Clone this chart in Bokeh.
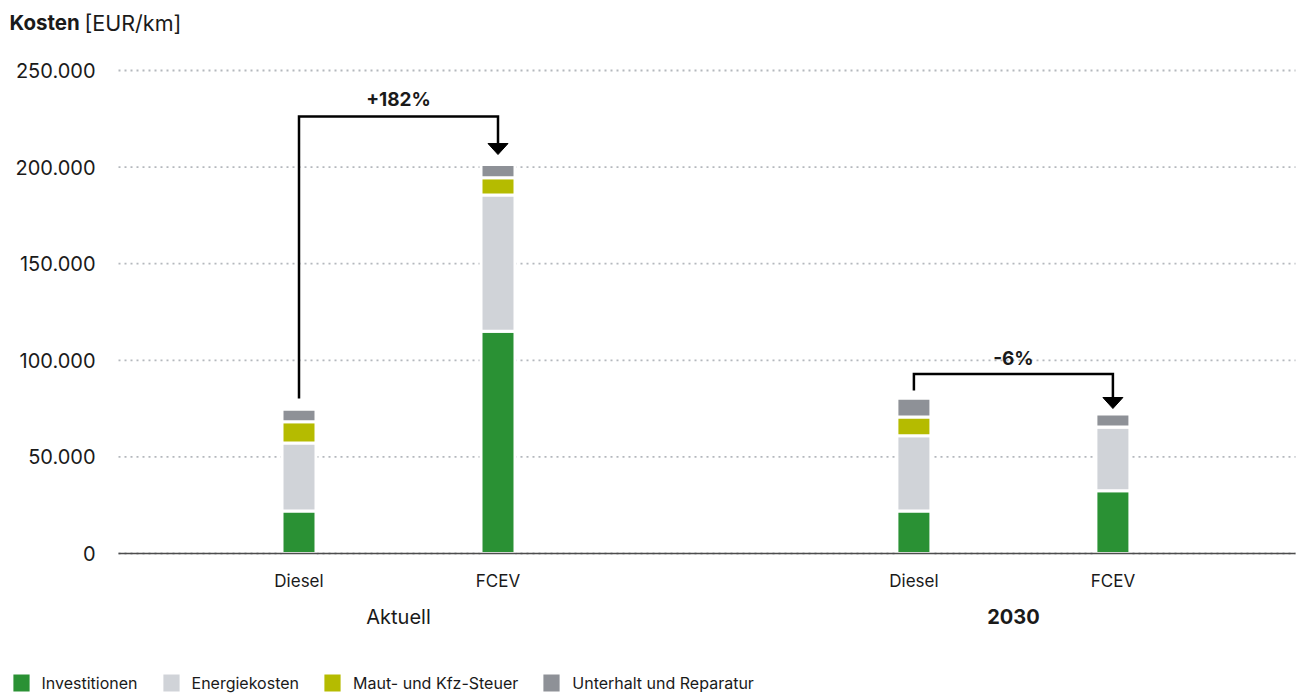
from bokeh.plotting import figure
from bokeh.models import Range1d, FixedTicker, Label, Legend, LegendItem, ColumnDataSource
from bokeh.embed import file_html
from bokeh.resources import INLINE

# ---------------- data ----------------
groups = ["Aktuell", "2030"]
vehicles = ["Diesel", "FCEV"]
components = ["Investitionen", "Energiekosten", "Maut- und Kfz-Steuer", "Unterhalt und Reparatur"]
investitionen = [22000, 115000, 22000, 32500]
energiekosten = [35200, 70500, 39000, 33000]
maut_kfz_steuer = [11000, 9000, 9700, 0]
unterhalt_reparatur = [6500, 6800, 9700, 6700]
y_ticks = [0, 50000, 100000, 150000, 200000, 250000]
y_tick_labels = ["0", "50.000", "100.000", "150.000", "200.000", "250.000"]
change_labels = ["+182%", "-6%"]
change_from = [0, 2]
change_to = [1, 3]
bracket_start = [80200, 84400]
bracket_top = [226200, 92900]
bracket_tip = [206500, 75050]
change_label_y = [234900, 100900]

colors = ["#2a9134", "#d0d3d8", "#b5bb00", "#8e9197"]
TEXT = "#1a1a1a"
FONT = "Inter"

# ---------------- geometry (page pixels) ----------------
W, H = 1304, 695
BAR0_PX = 298.5          # centre of first bar
UNIT_PX = 199.0          # pixels per x unit
ZERO_PY = 553.0          # pixel row of value 0
PX_PER_VAL = 1.932 / 1000.0
GROUP_STEP = 3.09
PLOT_L, PLOT_R = 118, 1295

x_start = (0 - BAR0_PX) / UNIT_PX
x_end = (W - BAR0_PX) / UNIT_PX
y_start = -(H - ZERO_PY) / PX_PER_VAL
y_end = ZERO_PY / PX_PER_VAL


def fx(px):
    return (px - BAR0_PX) / UNIT_PX


def fy(py):
    return (ZERO_PY - py) / PX_PER_VAL


xs = [gi * GROUP_STEP + vi for gi in range(len(groups)) for vi in range(len(vehicles))]
x_labels = [v for g in groups for v in vehicles]

src = ColumnDataSource(dict(
    x=xs,
    Investitionen=investitionen,
    Energiekosten=energiekosten,
    **{"Maut- und Kfz-Steuer": maut_kfz_steuer, "Unterhalt und Reparatur": unterhalt_reparatur},
))

p = figure(width=W, height=H, title=None,
           x_range=Range1d(x_start, x_end), y_range=Range1d(y_start, y_end),
           output_backend="svg", toolbar_location=None,
           min_border_left=0, min_border_right=0, min_border_top=0, min_border_bottom=0)
p.outline_line_color = None
p.background_fill_color = "white"
p.border_fill_color = "white"
p.xgrid.visible = False
p.ygrid.visible = False

# dotted horizontal grid lines
p.segment(x0=fx(PLOT_L), x1=fx(PLOT_R), y0=y_ticks, y1=y_ticks,
          line_color="#b4b8bd", line_width=1.8, line_dash="2 4", level="underlay")

renderers = p.vbar_stack(components, x="x", width=34 / UNIT_PX, source=src,
                         fill_color=colors, line_color="white", line_width=3)

# axes (placed inside the frame)
xa = p.xaxis[0]
xa.fixed_location = 0
xa.bounds = (fx(PLOT_L), fx(PLOT_R))
xa.ticker = FixedTicker(ticks=xs)
xa.major_label_overrides = {x: l for x, l in zip(xs, x_labels)}
xa.axis_line_color = "#4d4d4d"
xa.axis_line_width = 1.5
xa.major_tick_line_color = None
xa.major_tick_out = 0
xa.major_tick_in = 0
xa.minor_tick_line_color = None
xa.major_label_standoff = 17
xa.major_label_text_font = FONT
xa.major_label_text_font_size = "17px"
xa.major_label_text_color = TEXT

ya = p.yaxis[0]
ya.fixed_location = fx(PLOT_L)
ya.bounds = (0, y_ticks[-1])
ya.ticker = FixedTicker(ticks=y_ticks)
ya.major_label_overrides = {t: l for t, l in zip(y_ticks, y_tick_labels)}
ya.axis_line_color = None
ya.major_tick_line_color = None
ya.major_tick_out = 0
ya.major_tick_in = 0
ya.minor_tick_line_color = None
ya.major_label_standoff = 23
ya.major_label_text_font = FONT
ya.major_label_text_font_size = "20px"
ya.major_label_text_color = TEXT

# brackets with arrows
head_w = 20 / UNIT_PX
head_h = 11 / PX_PER_VAL
line_xs, line_ys, head_xs, head_ys = [], [], [], []
for k in range(len(change_labels)):
    xa_, xb_ = xs[change_from[k]], xs[change_to[k]]
    line_xs.append([xa_, xa_, xb_, xb_])
    line_ys.append([bracket_start[k], bracket_top[k], bracket_top[k], bracket_tip[k] + head_h])
    head_xs.append([xb_ - head_w / 2, xb_ + head_w / 2, xb_])
    head_ys.append([bracket_tip[k] + head_h, bracket_tip[k] + head_h, bracket_tip[k]])
    p.add_layout(Label(x=(xa_ + xb_) / 2, y=change_label_y[k], text=change_labels[k],
                       text_font=FONT, text_font_size="19px", text_font_style="bold",
                       text_color=TEXT, text_align="center", text_baseline="middle"))
p.multi_line(line_xs, line_ys, line_color="black", line_width=2.5, line_join="miter")
p.patches(head_xs, head_ys, fill_color="black", line_color="black", line_width=1)

# group labels
for gi, g in enumerate(groups):
    gx = sum(xs[gi * len(vehicles):(gi + 1) * len(vehicles)]) / len(vehicles)
    p.add_layout(Label(x=gx, y=fy(616), text=g, text_font=FONT, text_font_size="20px",
                       text_font_style="bold" if gi == 1 else "normal",
                       text_color=TEXT, text_align="center", text_baseline="middle"))

# title
p.add_layout(Label(x=fx(9), y=fy(22), text="Kosten", text_font=FONT, text_font_size="20.5px",
                   text_font_style="bold", text_color=TEXT, text_align="left", text_baseline="middle"))
p.add_layout(Label(x=fx(84), y=fy(22), text="[EUR/km]", text_font=FONT, text_font_size="21.5px",
                   text_color=TEXT, text_align="left", text_baseline="middle"))

# legend
legend = Legend(items=[LegendItem(label=c, renderers=[r]) for c, r in zip(components, renderers)],
                orientation="horizontal", location=(8.5, 0),
                padding=0, margin=0, spacing=21, label_standoff=9,
                glyph_width=24, glyph_height=25, label_height=25,
                border_line_color=None, background_fill_alpha=0,
                label_text_font=FONT, label_text_font_size="16px", label_text_color=TEXT)
p.add_layout(legend)

open("out.html", "w").write(file_html(p, INLINE))
